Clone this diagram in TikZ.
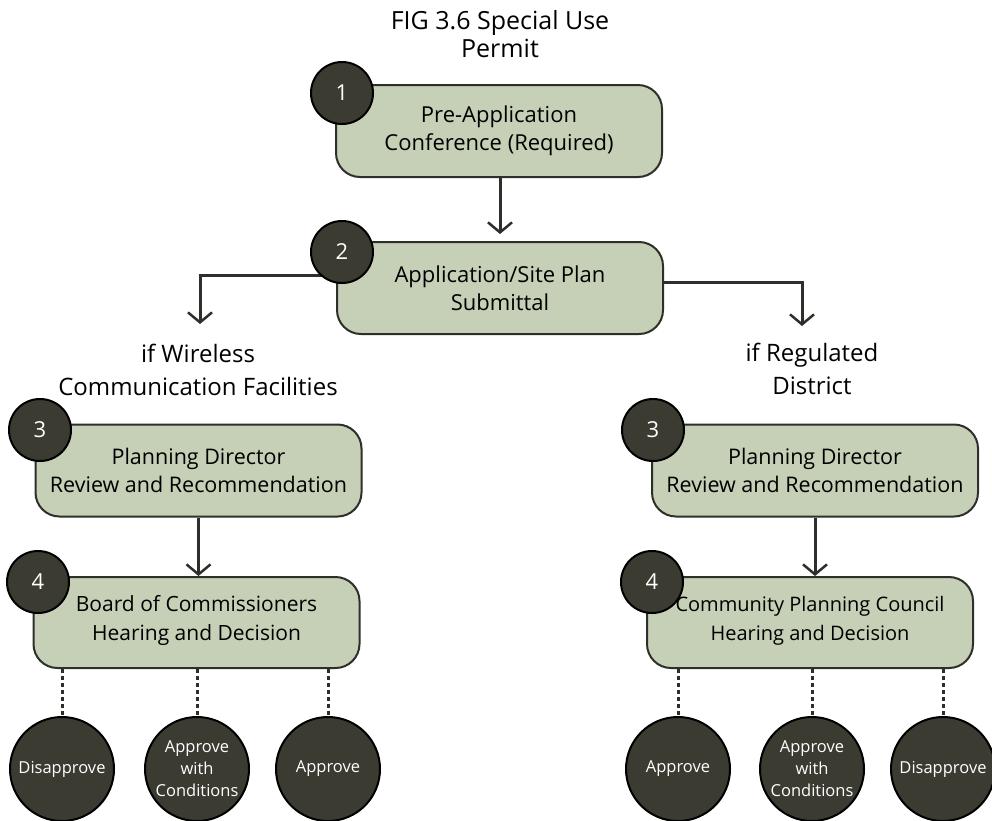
\documentclass[tikz,border=0pt]{standalone}
\usepackage{fontspec}
\setmainfont{Open Sans}
\usetikzlibrary{arrows.meta}
\definecolor{sage}{HTML}{C5D0B6}
\definecolor{darkc}{HTML}{3B3B32}
\definecolor{edge}{HTML}{2E2E2A}
\tikzset{
  stepbox/.style={draw=edge, line width=2pt, fill=sage, rounded corners=24pt,
    minimum width=326pt, minimum height=92pt, align=center, inner sep=0pt,
    font=\fontsize{22}{28}\selectfont, text=black},
  numc/.style={circle, draw=black, line width=2pt, fill=darkc, minimum size=62pt,
    inner sep=0pt, text=white, font=\fontsize{22}{24}\selectfont},
  outc/.style={circle, draw=black, line width=2pt, fill=darkc, minimum size=104pt,
    inner sep=0pt, text=white, align=center, font=\fontsize{16.5}{22}\selectfont},
  lbl/.style={align=center, font=\fontsize{24}{33}\selectfont},
  ttl/.style={align=center, font=\fontsize{25}{28}\selectfont},
  conn/.style={draw=edge, line width=3pt, -{Straight Barb[length=10pt,width=24pt,line width=2.5pt]}},
  dotc/.style={draw=edge, line width=3pt, dash pattern=on 4pt off 3pt}
}
\begin{document}
\begin{tikzpicture}[x=1pt,y=-1pt]
\useasboundingbox (0,0) rectangle (992,820);
\node[ttl] (title) at (500,34) {FIG 3.6 Special Use\\Permit};
\node[stepbox] (b1) at (499,131) {Pre-Application\\Conference (Required)};
\node[stepbox] (b2) at (500,288) {Application/Site Plan\\Submittal};
\node[lbl] (cw) at (198,370) {if Wireless\\Communication Facilities};
\node[lbl] (cr) at (812,369) {if Regulated\\District};
\node[stepbox, font=\fontsize{21.5}{28}\selectfont] (b3l) at (198.5,470.5) {Planning Director\\Review and Recommendation};
\node[stepbox, font=\fontsize{21.5}{28}\selectfont] (b3r) at (815,470.5) {Planning Director\\Review and Recommendation};
\node[stepbox, minimum height=91pt, font=\fontsize{21}{29}\selectfont] (b4l) at (196.5,622.5) {Board of Commissioners\\Hearing and Decision\strut};
\node[stepbox, minimum height=91pt, font=\fontsize{20}{29}\selectfont] (b4r) at (810,622.5) {Community Planning Council\\Hearing and Decision\strut};
% connectors
\draw[conn] (b1.south -| 500,0) -- (500,234);
\coordinate (l1) at (200,275);
\coordinate (r1) at (802,282);
\draw[conn] (b2.west |- l1) -- (l1) -- (200,324);
\draw[conn] (b2.east |- r1) -- (r1) -- (802,326);
\draw[conn] (b3l.south) -- (b3l.south |- b4l.north);
\draw[conn] (b3r.south) -- (b3r.south |- b4r.north);
% number circles
\node[numc] (n1) at (342,93) {1};
\node[numc] (n2) at (342,252) {2};
\node[numc] (n3l) at (40,430) {3};
\node[numc] (n3r) at (653,430) {3};
\node[numc] (n4l) at (38,582) {4};
\node[numc] (n4r) at (652,582) {4};
% outcomes
\node[outc] (o1) at (62,769) {Disapprove};
\node[outc] (o2) at (197,769) {Approve\\with\\Conditions};
\node[outc] (o3) at (328,769) {Approve};
\node[outc] (o4) at (678,769) {Approve};
\node[outc] (o5) at (812,769) {Approve\\with\\Conditions};
\node[outc] (o6) at (943,769) {Disapprove};
\foreach \o in {o1,o2,o3}{\draw[dotc] (\o.north |- b4l.south) -- (\o.north);}
\foreach \o in {o4,o5,o6}{\draw[dotc] (\o.north |- b4r.south) -- (\o.north);}
\end{tikzpicture}
\end{document}
